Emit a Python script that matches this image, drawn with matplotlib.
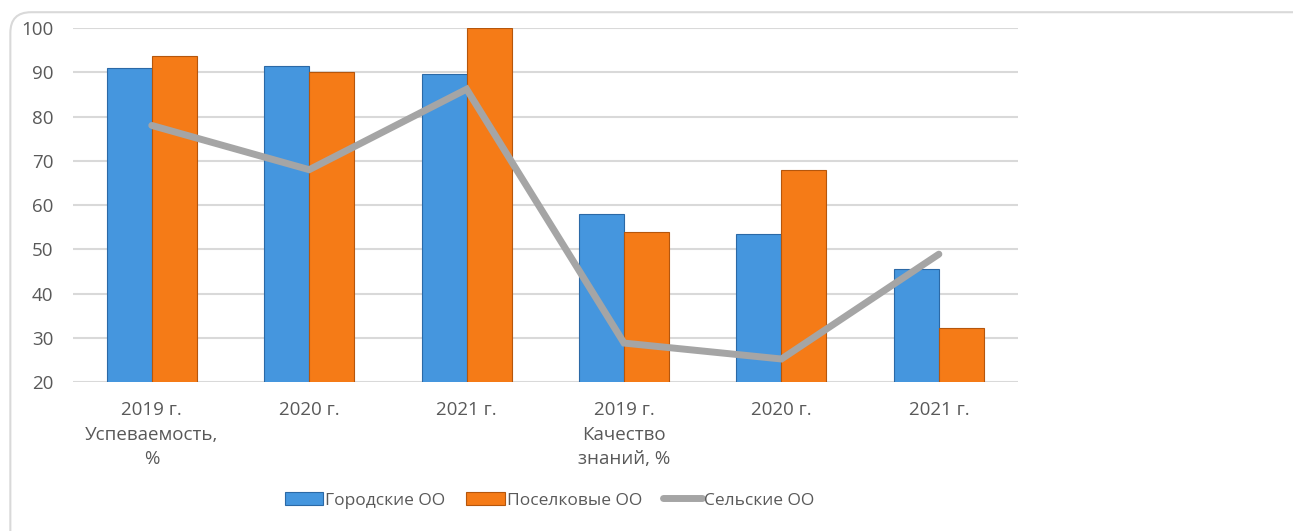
import matplotlib.pyplot as plt
import numpy as np
from matplotlib.patches import FancyBboxPatch

# Data
categories = ['2019 г.\nУспеваемость,\n%', '2020 г.', '2021 г.',
              '2019 г.\nКачество\nзнаний, %', '2020 г.', '2021 г.']
city = [91.0, 91.4, 89.6, 58.0, 53.4, 45.5]
settlement = [93.8, 90.0, 100.0, 53.9, 68.0, 32.2]
rural = [78.0, 68.0, 86.2, 28.8, 25.2, 48.9]
series_names = ['Городские ОО', 'Поселковые ОО', 'Сельские ОО']

plt.rcParams['font.family'] = ['Open Sans', 'DejaVu Sans']

fig = plt.figure(figsize=(12.93, 5.31), dpi=100)
ax = fig.add_axes([0.0565, 0.2806, 0.7305, 0.6664])

# rounded frame of the chart
frame = FancyBboxPatch((0.008, -0.05), 1.1, 1.027, boxstyle='round,pad=0,rounding_size=0.016',
                       transform=fig.transFigure, facecolor='none', edgecolor='#D9D9D9',
                       linewidth=1.5, mutation_aspect=1293 / 531)
fig.patches.append(frame)

x = np.arange(len(categories))
w = 0.286
b1 = ax.bar(x - w / 2, city, w, color='#4596DE', edgecolor='#2B69A6', linewidth=0.8,
            label=series_names[0], zorder=2)
b2 = ax.bar(x + w / 2, settlement, w, color='#F57B17', edgecolor='#B5560C', linewidth=0.8,
            label=series_names[1], zorder=2)
ln, = ax.plot(x, rural, color='#A5A5A5', linewidth=5, solid_capstyle='round',
              solid_joinstyle='miter', label=series_names[2], zorder=3)

ax.set_xlim(-0.5, len(categories) - 0.5)
ax.set_ylim(20, 100)
ax.set_yticks(range(20, 101, 10))
ax.grid(axis='y', color='#D9D9D9', linewidth=1.5, zorder=0)
ax.set_axisbelow(True)
for s in ax.spines.values():
    s.set_visible(False)
ax.tick_params(length=0, labelsize=13.5, colors='#595959')
ax.tick_params(axis='y', pad=14)
ax.tick_params(axis='x', pad=14)
ax.set_xticks(x)
ax.set_xticklabels(categories, linespacing=1.45)

leg = fig.legend([b1, b2, ln], series_names, loc='center', bbox_to_anchor=(0.425, 0.058),
                 ncol=3, frameon=False, fontsize=12.5, handlelength=2.2, handleheight=0.8,
                 handletextpad=0.15, columnspacing=1.2)
for t in leg.get_texts():
    t.set_color('#595959')

fig.savefig('out.png', dpi=100)
